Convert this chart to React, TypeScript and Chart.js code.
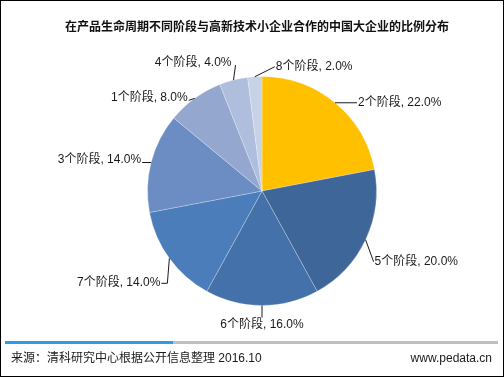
import React, { useEffect, useRef } from "react";
import { Chart, registerables } from "chart.js";
Chart.register(...registerables);

const TITLE = "在产品生命周期不同阶段与高新技术小企业合作的中国大企业的比例分布";
const SOURCE = "来源：清科研究中心根据公开信息整理 2016.10";
const SITE = "www.pedata.cn";
const categories = ["2个阶段", "5个阶段", "6个阶段", "7个阶段", "3个阶段", "1个阶段", "4个阶段", "8个阶段"];
const values = [22.0, 20.0, 16.0, 14.0, 14.0, 8.0, 4.0, 2.0];
const colors = ["#FFC000", "#3E6698", "#4471A9", "#4A7DBA", "#6B8DC3", "#93A7CF", "#AEBEDC", "#C8D2E6"];

// label layout: offset from slice edge midpoint, and text alignment
const labelLayout = [
  { dx: 22, dy: 0, align: "left", elbow: "h" },
  { dx: 8, dy: 22, align: "left", elbow: "d" },
  { dx: 0, dy: 12, align: "center", elbow: "v" },
  { dx: -2, dy: 25, align: "right", elbow: "vh" },
  { dx: -9, dy: 0, align: "right", elbow: "h" },
  { dx: -6, dy: 2, align: "right", elbow: "h" },
  { dx: 2, dy: -15, align: "right", elbow: "v" },
  { dx: 20, dy: -10, align: "left", elbow: "d" },
];

const FONT = '"Liberation Sans", Arial, "Noto Sans CJK SC", sans-serif';

const labelPlugin = {
  id: "pieLabels",
  afterDatasetsDraw(chart: any) {
    const ctx = chart.ctx;
    const meta = chart.getDatasetMeta(0);
    ctx.save();
    ctx.font = "12px " + FONT;
    ctx.fillStyle = "#1a1a1a";
    ctx.strokeStyle = "#1a1a1a";
    ctx.lineWidth = 1;
    meta.data.forEach((arc: any, i: number) => {
      const { x, y, startAngle, endAngle, outerRadius } = arc.getProps(["x", "y", "startAngle", "endAngle", "outerRadius"], true);
      const mid = (startAngle + endAngle) / 2;
      const ax = x + Math.cos(mid) * outerRadius;
      const ay = y + Math.sin(mid) * outerRadius;
      const L = labelLayout[i];
      const ex = ax + L.dx;
      const ey = ay + L.dy;
      ctx.beginPath();
      ctx.moveTo(ax, ay);
      if (L.elbow === "vh") {
        ctx.lineTo(ex, ey);
        ctx.lineTo(ex - 6, ey);
      } else {
        ctx.lineTo(ex, ey);
      }
      ctx.stroke();
      const text = `${categories[i]}, ${values[i].toFixed(1)}%`;
      ctx.textBaseline = "middle";
      if (L.align === "left") {
        ctx.textAlign = "left";
        ctx.fillText(text, ex + 1, ey);
      } else if (L.align === "right") {
        ctx.textAlign = "right";
        const off = L.elbow === "vh" ? 7 : L.elbow === "v" ? 4 : 1;
        ctx.fillText(text, ex - off, L.elbow === "h" ? ey - 3 : L.elbow === "v" ? ey - 2 : ey - 1);
      } else {
        ctx.textAlign = "center";
        ctx.fillText(text, ex, ey + 7);
      }
    });
    ctx.restore();
  },
};

export default function App() {
  const ref = useRef<HTMLCanvasElement>(null);
  useEffect(() => {
    document.body.style.margin = "0";
    const chart = new Chart(ref.current!, {
      type: "pie",
      data: {
        labels: categories,
        datasets: [
          {
            data: values,
            backgroundColor: colors,
            borderColor: "rgba(255,255,255,0.25)",
            borderWidth: 1,
          },
        ],
      },
      options: {
        responsive: false,
        animation: false,
        layout: { padding: { top: 76, bottom: 71, left: 147, right: 127 } },
        plugins: { legend: { display: false }, tooltip: { enabled: false }, title: { display: false } },
      },
      plugins: [labelPlugin],
    });
    return () => chart.destroy();
  }, []);
  return (
    <div style={{ position: "relative", width: 504, height: 377, background: "#fff", fontFamily: FONT }}>
      <canvas ref={ref} width={504} height={377} style={{ position: "absolute", left: 0, top: 0 }} />
      <div style={{ position: "absolute", left: 0, top: 0, width: 504, height: 377, border: "1px solid #000", boxSizing: "border-box", pointerEvents: "none" }} />
      <div style={{ position: "absolute", left: 0, width: 514, top: 19, textAlign: "center", fontSize: 12, fontWeight: "bold", color: "#111", lineHeight: "16px" }}>
        {TITLE}
      </div>
      <div style={{ position: "absolute", left: 5, top: 341, width: 168, height: 3, background: "#2E9BEA" }} />
      <div style={{ position: "absolute", left: 173, top: 341, width: 325, height: 3, background: "#BFBFBF" }} />
      <div style={{ position: "absolute", left: 11, top: 350, fontSize: 12, color: "#1a1a1a", lineHeight: "16px" }}>{SOURCE}</div>
      <div style={{ position: "absolute", right: 12, top: 350, fontSize: 12, color: "#1a1a1a", lineHeight: "16px" }}>{SITE}</div>
    </div>
  );
}
